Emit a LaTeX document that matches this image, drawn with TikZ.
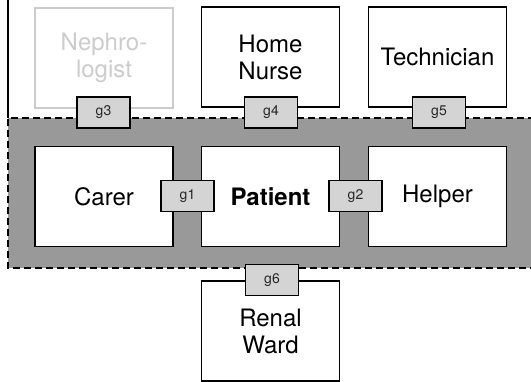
\documentclass[tikz,border=0pt]{standalone}
\usepackage{fontspec}
\setmainfont{TeX Gyre Heros}
\definecolor{zonegray}{HTML}{999999}
\definecolor{gatefill}{HTML}{D4D4D4}
\definecolor{faded}{HTML}{CCCCCC}
\begin{document}
\begin{tikzpicture}[x=1pt,y=-1pt,
  role/.style={draw=black, line width=1.6pt, fill=white, minimum width=138pt, minimum height=100pt,
    align=center, font=\fontsize{24}{27}\selectfont, inner sep=0pt},
  inactive/.style={role, draw=faded, text=faded},
  gate/.style={draw=black, line width=1.6pt, fill=gatefill, minimum width=53pt, minimum height=31pt,
    font=\fontsize{14}{16}\selectfont, text=black!85, inner sep=0pt}]
  \useasboundingbox (0,0) rectangle (531,382);

  % shared care zone
  \fill[zonegray] (8,118) rectangle (535,268);
  \draw[line width=1.6pt, dash pattern=on 7pt off 4pt] (535,118) -- (8,118) -- (8,268) -- (535,268);
  \draw[line width=1.2pt] (8,0) -- (8,118);

  % roles
  \node[inactive] (neph) at (104,58) {Nephro-\\logist};
  \node[role] (nurse) at (270.5,57) {Home\\Nurse};
  \node[role] (tech) at (437.5,57) {Technician};
  \node[role] (carer) at (104,196.5) {Carer};
  \node[role, font=\fontsize{24}{27}\selectfont\bfseries] (patient) at (270.5,196.5) {Patient};
  \node[role] (helper) at (437.5,196.5) {Helper};
  \node[role] (ward) at (270.5,331) {Renal\\Ward};

  % gateways
  \node[gate] (g3) at (103.5,112.5) {g3};
  \node[gate] (g4) at (271,112.5) {g4};
  \node[gate] (g5) at (439,112.5) {g5};
  \node[gate] (g1) at (187.5,196) {g1};
  \node[gate] (g2) at (355.5,196) {g2};
  \node[gate] (g6) at (272,280) {g6};
\end{tikzpicture}
\end{document}
